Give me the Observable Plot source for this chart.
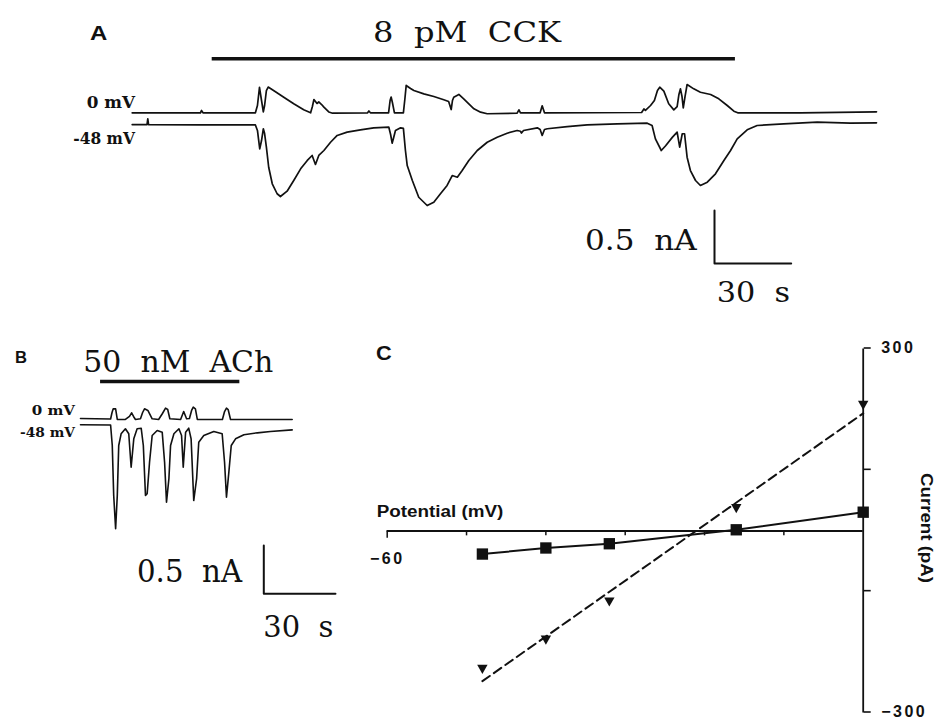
<!DOCTYPE html>
<html><head><meta charset="utf-8">
<script src="https://cdn.jsdelivr.net/npm/d3@7"></script>
<script src="https://cdn.jsdelivr.net/npm/@observablehq/plot@0.6"></script>
<style>
html,body{margin:0;padding:0;background:#fff;}
#fig{position:relative;width:936px;height:719px;overflow:hidden;background:#fff;}
#fig svg{position:absolute;}
</style></head><body><div id="fig"></div>
<script>
// ---------- DATA ----------
// Panel A: 8 pM CCK, holding 0 mV (top) and -48 mV (bottom). time in s, current in nA
const timeA0 = [0,26.7,27.1,27.7,48.2,49.0,49.8,50.6,51.3,51.8,
  52.5,53.2,54.1,56.5,59.3,63.2,67.1,69.8,70.5,71.1,
  71.7,72.3,73.0,74.1,75.0,76.9,78.4,92.1,92.6,93.2,
  100.3,100.9,101.3,101.8,102.6,106.1,106.7,107.2,108.9,110.2,
  114.1,118.0,121.9,123.8,124.8,125.3,125.8,127.8,129.7,131.7,
  133.7,136.3,138.9,150.6,151.3,151.9,159.6,160.4,161.3,199.3,
  200.2,200.8,202.8,204.3,205.5,206.4,208.0,209.9,211.9,213.2,
  213.9,214.5,215.1,215.6,216.3,217.1,219.7,222.3,226.3,229.5,
  232.8,235.4,236.9,261.5,291.2];
const currentA0 = [0,0,0.022,0,0,0.069,0.239,0.116,0.008,0.069,
  0.210,0.243,0.229,0.192,0.147,0.085,0.028,0,0.059,0.125,
  0.107,0.088,0.102,0.078,0.053,0.008,-0.004,0,0.017,0,
  0,0.116,0.149,0.097,0,0,0.135,0.258,0.229,0.210,
  0.179,0.154,0.123,0.107,0.031,0.116,0.147,0.173,0.132,0.085,
  0.038,0.006,-0.009,-0.004,0.028,0,0,0.066,0,0.003,
  0.036,0.022,0.069,0.116,0.210,0.242,0.204,0.085,0.028,0.059,
  0.173,0.226,0.154,0.047,0.154,0.267,0.226,0.194,0.173,0.132,
  0.069,0.015,0,0,0.009];
const timeA48 = [0,5.8,6.1,6.4,26.7,48.2,49.0,49.9,50.6,51.3,
  51.8,52.5,53.4,54.8,56.7,58.0,60.6,63.2,65.9,68.5,
  70.4,71.7,73.0,75.0,77.6,80.2,84.1,89.3,94.5,100.4,
  101.1,101.7,102.2,103.0,105.0,106.1,106.9,107.6,109.6,112.1,
  115.4,118.0,120.6,123.2,125.2,127.2,129.1,131.7,135.0,138.9,
  142.8,146.7,150.6,151.9,152.3,153.1,158.5,159.6,160.4,161.3,
  162.4,170.2,178.0,189.8,201.5,203.4,204.7,207.0,208.7,211.3,
  213.2,214.2,215.2,216.1,217.1,218.4,220.4,222.3,225.0,228.2,
  231.5,234.1,236.7,240.6,244.5,254.9,268.0,281.0,291.2];
const currentA48 = [-0.005,-0.005,0.049,-0.005,-0.009,-0.009,-0.061,-0.234,-0.156,-0.045,
  -0.090,-0.219,-0.408,-0.564,-0.658,-0.684,-0.634,-0.533,-0.423,-0.344,
  -0.297,-0.382,-0.297,-0.250,-0.172,-0.108,-0.077,-0.055,-0.036,-0.030,
  -0.099,-0.181,-0.137,-0.061,-0.036,-0.042,-0.250,-0.392,-0.533,-0.691,
  -0.769,-0.738,-0.658,-0.580,-0.486,-0.502,-0.439,-0.344,-0.250,-0.172,
  -0.125,-0.087,-0.061,-0.068,-0.085,-0.061,-0.036,-0.052,-0.108,-0.052,
  -0.045,-0.024,-0.008,0.002,0.008,-0.014,-0.140,-0.250,-0.205,-0.126,
  -0.077,-0.219,-0.092,-0.092,-0.313,-0.439,-0.533,-0.580,-0.549,-0.470,
  -0.344,-0.250,-0.140,-0.055,-0.014,0.002,0.017,0.008,0.011];
const cckApplication = [31.3, 236.0];   // s

// Panel B: 50 nM ACh
const timeB0 = [0,12.6,13.2,13.7,14.7,15.4,18.8,20.5,21.4,22.2,
  23.0,25.1,26.0,26.8,28.2,30.0,32.7,34.3,35.6,36.5,
  37.4,41.9,43.2,44.4,45.6,46.5,47.2,48.1,48.9,59.4,
  60.3,61.1,61.8,62.8,88.6];
const currentB0 = [0,-0.005,0.062,0.100,0.100,-0.010,-0.010,0.021,0.059,0.021,
  -0.010,-0.003,0.062,0.100,0.083,-0.003,-0.010,0.052,0.107,0.093,
  -0.003,-0.010,0.072,-0.003,0,0.083,0.117,0.100,-0.010,-0.010,
  0.072,0.107,0.093,-0.010,-0.010];
const timeB48 = [0,12.6,13.3,13.9,14.7,15.4,16.0,17.0,18.8,20.2,
  21.2,22.3,23.7,25.4,26.3,27.2,27.9,28.9,30.0,32.1,
  34.2,35.2,36.0,37.0,37.7,39.1,41.2,42.3,43.0,44.0,
  45.3,46.3,47.4,48.6,49.5,51.6,55.8,59.3,60.3,61.1,
  62.1,63.1,64.9,68.4,74.0,79.5,88.6];
const currentB48 = [0.002,0,-0.212,-0.729,-1.073,-0.729,-0.212,-0.091,-0.039,-0.091,
  -0.437,-0.143,-0.039,-0.033,-0.212,-0.729,-0.711,-0.385,-0.109,-0.057,
  -0.074,-0.385,-0.798,-0.556,-0.212,-0.091,-0.039,-0.109,-0.437,-0.074,
  -0.033,-0.143,-0.781,-0.556,-0.178,-0.109,-0.067,-0.091,-0.385,-0.747,
  -0.488,-0.212,-0.143,-0.101,-0.081,-0.067,-0.050];
const achApplication = [8.4, 66.7];     // s

const scaleBarSize = [30, 0.5];          // s, nA

// Panel C: current-voltage relation
const potential = [-48, -40, -32, -16, 0];            // mV
const currentSquares = [-38, -28, -21, 2, 31];        // pA
const currentTriangles = [-228, -180, -117, 37, 207]; // pA
const potentialTicks = [-60, -50, -40, -30, -20, -10];
const currentTicks = [-300, -100, 100, 300];

// ---------- LAYOUT ----------
const SERIF = "'DejaVu Serif', serif";
const SANS = "'Liberation Sans', Arial, sans-serif";
const INK = "#111";
const fig = document.getElementById("fig");

const rows = (t, i, off = 0) => t.map((v, k) => ({t: v, i: i[k] + off}));
const barRows = (t0, i0) => [
  {t: t0, i: i0 + scaleBarSize[1]}, {t: t0, i: i0}, {t: t0 + scaleBarSize[0], i: i0}
];
function place(svg, left, top) {
  svg.style.left = left + "px"; svg.style.top = top + "px";
  svg.style.background = "transparent"; svg.style.overflow = "visible";
  fig.appendChild(svg);
}

// Panel A
{
  const pxS = 2.556, pxNA = 106, x0 = 131.7, y0 = 112.3, W = 936, H = 330;
  const off = -(123.5 - y0) / pxNA;
  const plotA = Plot.plot({
    width: W, height: H, margin: 0,
    x: {domain: [-x0 / pxS, (W - x0) / pxS], axis: null},
    y: {domain: [(y0 - H) / pxNA, y0 / pxNA], axis: null},
    marks: [
      Plot.ruleY([(y0 - 58.3) / pxNA], {x1: cckApplication[0], x2: cckApplication[1], stroke: INK, strokeWidth: 3.5}),
      Plot.line(rows(timeA0, currentA0), {x: "t", y: "i", stroke: INK, strokeWidth: 1.7}),
      Plot.line(rows(timeA48, currentA48, off), {x: "t", y: "i", stroke: INK, strokeWidth: 1.7}),
      Plot.line(barRows((714 - x0) / pxS, (y0 - 263) / pxNA), {x: "t", y: "i", stroke: INK, strokeWidth: 2})
    ]
  });
  place(plotA, 0, 0);
}

// Panel B
{
  const pxS = 2.389, pxNA = 96.7, x0 = 80, top = 330, y0 = 418 - top, W = 350, H = 389;
  const off = -(424.5 - 418) / pxNA;
  const plotB = Plot.plot({
    width: W, height: H, margin: 0,
    x: {domain: [-x0 / pxS, (W - x0) / pxS], axis: null},
    y: {domain: [(y0 - H) / pxNA, y0 / pxNA], axis: null},
    marks: [
      Plot.ruleY([(418 - 381) / pxNA], {x1: achApplication[0], x2: achApplication[1], stroke: INK, strokeWidth: 3.5}),
      Plot.line(rows(timeB0, currentB0), {x: "t", y: "i", stroke: INK, strokeWidth: 1.6}),
      Plot.line(rows(timeB48, currentB48, off), {x: "t", y: "i", stroke: INK, strokeWidth: 1.6}),
      Plot.line(barRows((263.3 - x0) / pxS, (418 - 593.3) / pxNA), {x: "t", y: "i", stroke: INK, strokeWidth: 2})
    ]
  });
  place(plotB, 0, top);
}

// Panel C
{
  const left = 350, top = 330, W = 586, H = 389;
  const ivRows = potential.map((v, k) => ({v, sq: currentSquares[k], tri: currentTriangles[k]}));
  const triangleDown = {draw(ctx, size) {
    const r = Math.sqrt(size / Math.PI), w = r * 1.3, h = r * 1.15;
    ctx.moveTo(-w, -h); ctx.lineTo(w, -h); ctx.lineTo(0, h); ctx.closePath();
  }};
  const fmt = d3.format("d");
  const plotC = Plot.plot({
    width: W, height: H,
    marginLeft: 386.7 - left, marginRight: 936 - 862.7, marginTop: 348.5 - top, marginBottom: 719 - 712.5,
    x: {domain: [-60, 0], axis: null},
    y: {domain: [-300, 300], axis: null},
    style: {fontFamily: SANS, fontSize: "16px"},
    marks: [
      Plot.ruleY([0], {x1: -60, x2: 0, stroke: INK, strokeWidth: 1.8}),
      Plot.ruleX([0], {y1: -300, y2: 300, stroke: INK, strokeWidth: 1.8}),
      Plot.ruleX(potentialTicks, {x: d => d, y1: 0, y2: d => d === -60 ? -12 : -8, stroke: INK, strokeWidth: 1.5}),
      Plot.text([potentialTicks[0]], {x: d => d, y: () => 0, text: d => fmt(d), dy: 28, fontSize: 16, fontWeight: "bold", fill: INK}),
      Plot.axisY({ticks: currentTicks, anchor: "right", tickSize: 7, tickPadding: 11,
        tickFormat: d => Math.abs(d) === 300 ? fmt(d) : "", fontSize: 16, fontWeight: "bold",
        label: null, stroke: INK, strokeWidth: 1.6, fill: INK, dy: -1}),
      Plot.linearRegressionY(ivRows, {x: "v", y: "tri", ci: 0, stroke: INK, strokeWidth: 2, strokeDasharray: "9,5"}),
      Plot.line(ivRows, {x: "v", y: "sq", stroke: INK, strokeWidth: 2}),
      Plot.dot(ivRows, {x: "v", y: "sq", symbol: "square", r: 6.4, fill: INK}),
      Plot.dot(ivRows, {x: "v", y: "tri", symbol: triangleDown, r: 4, fill: INK})
    ]
  });
  d3.select(plotC).selectAll("text").style("letter-spacing", "2.5px");
  place(plotC, left, top);
}

// Text annotations
const labels = [
  {text: "A", x: 90, y: 40, w: 17.3, size: 21, font: SANS, weight: 700},
  {text: "8  pM  CCK", x: 373, y: 41.7, w: 188, size: 27, font: SERIF, weight: 400},
  {text: "0 mV", x: 86.7, y: 108.3, w: 48.3, size: 16, font: SERIF, weight: 700},
  {text: "-48 mV", x: 73.3, y: 144, w: 61.7, size: 16, font: SERIF, weight: 700},
  {text: "0.5  nA", x: 585, y: 250, w: 111.7, size: 28, font: SERIF, weight: 400},
  {text: "30  s", x: 716.7, y: 301.7, w: 73.3, size: 28, font: SERIF, weight: 400},
  {text: "B", x: 15, y: 363.3, w: 12, size: 16, font: SANS, weight: 700},
  {text: "50  nM  ACh", x: 83.3, y: 371.7, w: 190, size: 30, font: SERIF, weight: 400},
  {text: "0 mV", x: 31.7, y: 415, w: 43.3, size: 13, font: SERIF, weight: 700},
  {text: "-48 mV", x: 20, y: 436.7, w: 55, size: 13, font: SERIF, weight: 700},
  {text: "0.5  nA", x: 137, y: 582, w: 105, size: 31, font: SERIF, weight: 400},
  {text: "30  s", x: 263.3, y: 636.7, w: 70, size: 30, font: SERIF, weight: 400},
  {text: "C", x: 376, y: 360, w: 15.7, size: 21, font: SANS, weight: 700},
  {text: "Potential (mV)", x: 376.7, y: 516.5, w: 126.6, size: 16, font: SANS, weight: 700},
  {text: "Current (pA)", x: 921, y: 473, w: 110, size: 16, font: SANS, weight: 700, rotate: 90}
];
const overlay = d3.select(fig).append("svg").attr("width", 936).attr("height", 719)
  .style("left", "0px").style("top", "0px").style("pointer-events", "none");
for (const l of labels) {
  const t = overlay.append("text").attr("x", l.x).attr("y", l.y)
    .attr("font-family", l.font).attr("font-size", l.size).attr("font-weight", l.weight)
    .attr("textLength", l.w).attr("lengthAdjust", "spacingAndGlyphs")
    .attr("fill", INK).style("white-space", "pre").text(l.text);
  if (l.rotate) t.attr("transform", `rotate(${l.rotate},${l.x},${l.y})`);
}
</script></body></html>
